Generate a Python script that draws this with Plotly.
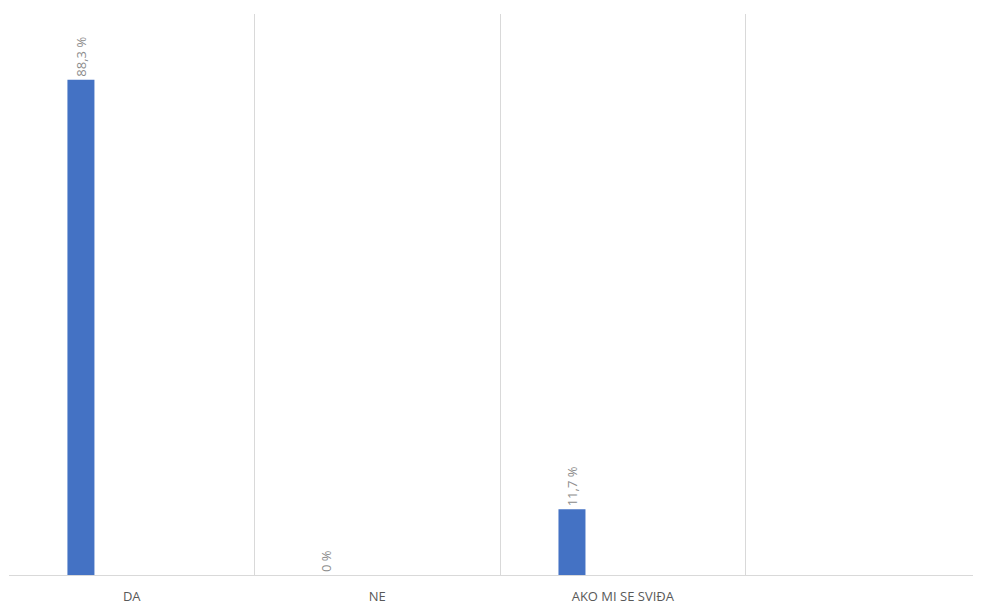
import plotly.graph_objects as go

categories = ["DA", "NE", "AKO MI SE SVIĐA"]
values = [88.3, 0, 11.7]
value_labels = ["88,3 %", "0 %", "11,7 %"]
n_slots = 4

positions = list(range(len(categories)))

fig = go.Figure()
fig.add_trace(go.Bar(
    x=positions,
    y=values,
    width=0.11,
    offset=-0.262,
    marker=dict(color="#4472C4", line=dict(width=0)),
    text=value_labels,
    textposition="outside",
    textangle=-90,
    constraintext="none",
    cliponaxis=False,
    textfont=dict(family="Open Sans", size=13, color="#8c8c8c"),
    hoverinfo="skip",
))

fig.update_layout(
    width=973,
    height=597,
    margin=dict(l=1, r=0, t=6, b=28),
    plot_bgcolor="white",
    paper_bgcolor="white",
    showlegend=False,
    xaxis=dict(
        range=[-0.5, 3.459],
        tickvals=positions,
        ticktext=categories,
        showgrid=False,
        zeroline=False,
        showline=True,
        linecolor="#d9d9d9",
        linewidth=1,
        ticks="",
        ticklabelstandoff=9,
        tickfont=dict(family="Open Sans", size=13, color="#595959"),
        minor=dict(
            tickvals=[i - 0.5 for i in range(n_slots)],
            showgrid=True,
            gridcolor="#d9d9d9",
            gridwidth=1,
        ),
    ),
    yaxis=dict(
        range=[0, 100],
        showgrid=False,
        zeroline=False,
        showticklabels=False,
        showline=False,
    ),
)

fig.write_html("out.html")
